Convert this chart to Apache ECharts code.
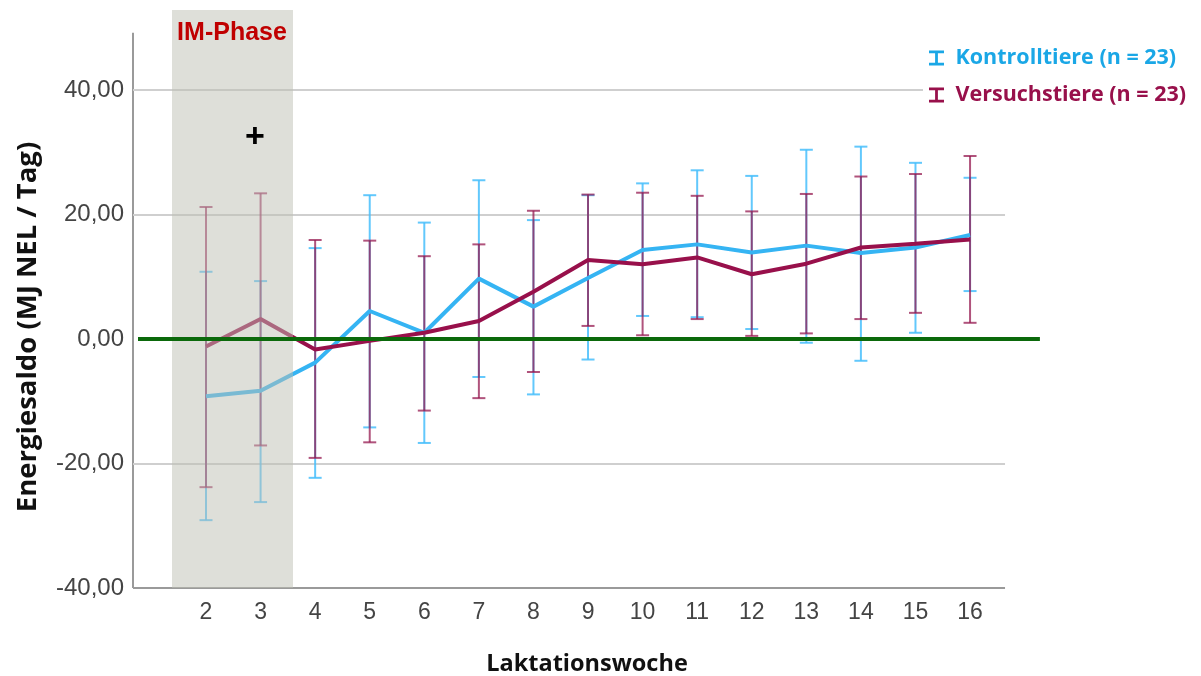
<!DOCTYPE html>
<html><head><meta charset="utf-8">
<script src="https://cdn.jsdelivr.net/npm/echarts@6/dist/echarts.min.js"></script>
<style>html,body{margin:0;padding:0;background:#fff}#c{width:1201px;height:676px}</style>
</head><body><div id="c"></div>
<script>
// ---- data ----
const weeks = [2,3,4,5,6,7,8,9,10,11,12,13,14,15,16];
const kontrollMean  = [-9.2,-8.3,-3.8, 4.5, 1.0, 9.7, 5.2, 9.8,14.3,15.2,13.9,15.0,13.8,14.7,16.7];
const kontrollUpper = [10.8, 9.3,14.6,23.1,18.7,25.5,19.1,23.1,25.0,27.1,26.2,30.4,30.9,28.3,25.9];
const kontrollLower = [-29.1,-26.2,-22.3,-14.2,-16.7,-6.1,-8.9,-3.3,3.7,3.5,1.6,-0.6,-3.5,1.0,7.7];
const versuchMean   = [-1.2, 3.2,-1.7,-0.3, 1.0, 2.9, 7.6,12.7,12.0,13.1,10.4,12.1,14.7,15.3,16.0];
const versuchUpper  = [21.2,23.4,15.9,15.8,13.3,15.2,20.6,23.2,23.5,23.0,20.5,23.3,26.1,26.5,29.4];
const versuchLower  = [-23.8,-17.1,-19.1,-16.6,-11.5,-9.5,-5.3,2.1,0.6,3.2,0.5,0.9,3.2,4.2,2.6];
const yTicks = [-40,-20,0,20,40];
const gridTicks = [-20,20,40];
const imPhaseRange = [1.377, 3.594];
const seriesNames = ['Kontrolltiere (n = 23)', 'Versuchstiere (n = 23)'];

// axis frame (data units)
const xMin = 0.6623, xFrameMax = 16.641, xMax = 17.3;
const yMin = -40, yMax = 52.85, yFrameMax = 49.2;
const zeroLineRange = [0.754, 17.28];

const blue = '#35b4f3', maroon = '#98104b';

function pairs(a){ return weeks.map((w,i)=>[w,a[i]]); }
function bars(lo,hi){ return weeks.map((w,i)=>[w,lo[i],hi[i]]); }

function errRender(color){
  return function(params, api){
    const x = api.value(0), lo = api.value(1), hi = api.value(2);
    const pHi = api.coord([x,hi]), pLo = api.coord([x,lo]);
    const hw = 6.5;
    const st = {stroke: color, lineWidth: 2, fill: null};
    return {type:'group', children:[
      {type:'line', shape:{x1:pHi[0],y1:pHi[1],x2:pLo[0],y2:pLo[1]}, style:st},
      {type:'line', shape:{x1:pHi[0]-hw,y1:pHi[1],x2:pHi[0]+hw,y2:pHi[1]}, style:st},
      {type:'line', shape:{x1:pLo[0]-hw,y1:pLo[1],x2:pLo[0]+hw,y2:pLo[1]}, style:st}
    ]};
  };
}

const frameLines = [
  [{coord:[xMin,yMin], lineStyle:{color:'#9a9a9a', width:2, type:'solid'}},{coord:[xFrameMax,yMin]}],
  [{coord:[xMin,yMin], lineStyle:{color:'#9a9a9a', width:2, type:'solid'}},{coord:[xMin,yFrameMax]}]
].concat(gridTicks.map(t=>[{coord:[xMin,t], lineStyle:{color:'#cfcfcf', width:2, type:'solid'}},{coord:[xFrameMax,t]}]));

const chart = echarts.init(document.getElementById('c'), null, {renderer:'canvas'});
const iBeam = 'path://M0,0H14V2.6H8.3V11.4H14V14H0V11.4H5.7V2.6H0Z';

chart.setOption({
  animation:false,
  backgroundColor:'#fff',
  grid:{left:133, top:10, width:908, bottom:88, containLabel:false, outerBoundsMode:'none'},
  xAxis:{
    type:'value', min:xMin, max:xMax,
    name:'Laktationswoche', nameLocation:'middle', nameGap:64,
    nameTextStyle:{fontFamily:'Open Sans', fontWeight:'bold', fontSize:23.5, color:'#111'},
    axisLine:{show:false},
    axisTick:{show:false},
    splitLine:{show:false},
    axisLabel:{customValues:weeks, formatter:v=>String(v), color:'#444', fontSize:23, margin:13, fontFamily:'Liberation Sans'}
  },
  yAxis:{
    type:'value', min:yMin, max:yMax, interval:20,
    axisLine:{show:false}, axisTick:{show:false},
    splitLine:{show:false},
    axisLabel:{customValues:yTicks, formatter:v=>v.toFixed(2).replace('.',','), color:'#444', fontSize:24, margin:9, fontFamily:'Liberation Sans'}
  },
  legend:{
    orient:'vertical', left:923, top:41, itemGap:15, itemWidth:28, itemHeight:15,
    backgroundColor:'#fff', padding:[6,4,6,6],
    icon:iBeam,
    textStyle:{fontFamily:'Open Sans', fontWeight:'bold', fontSize:21.5},
    data:[
      {name:seriesNames[0], textStyle:{color:'#1aa7e6'}},
      {name:seriesNames[1], textStyle:{color:'#98104b'}}
    ]
  },
  series:[
    {type:'line', name:'frame', z:1, data:[], silent:true,
     markLine:{z:1, silent:true, symbol:'none', label:{show:false}, data:frameLines}},
    {type:'custom', name:'errK', z:2, renderItem:errRender('rgba(70,190,252,0.85)'),
     encode:{x:0, y:[1,2]}, data:bars(kontrollLower,kontrollUpper)},
    {type:'custom', name:'errV', z:2, renderItem:errRender('rgba(150,25,80,0.75)'),
     encode:{x:0, y:[1,2]}, data:bars(versuchLower,versuchUpper)},
    {type:'line', name:seriesNames[0], z:3, data:pairs(kontrollMean), showSymbol:false, symbol:'none',
     lineStyle:{color:blue, width:4}, itemStyle:{color:'#1aa7e6'}},
    {type:'line', name:seriesNames[1], z:4, data:pairs(versuchMean), showSymbol:false, symbol:'none',
     lineStyle:{color:maroon, width:4}, itemStyle:{color:maroon}},
    {type:'line', name:'shade', z:10, data:[], silent:true,
     markArea:{z:10, silent:true, itemStyle:{color:'rgba(190,192,180,0.5)'},
       data:[[{coord:[imPhaseRange[0], yMin]},{coord:[imPhaseRange[1], yMax]}]]}},
    {type:'line', name:'zero', z:12, data:[], silent:true,
     markLine:{z:12, silent:true, symbol:'none', label:{show:false},
       data:[[{coord:[zeroLineRange[0],0], lineStyle:{color:'#0b690b', width:4, type:'solid'}},{coord:[zeroLineRange[1],0]}]]}}
  ],
  graphic:[
    {type:'text', x:232, y:33, z:20, style:{text:'IM-Phase', fill:'#c00000', align:'center', verticalAlign:'middle', font:'bold 25px "Liberation Sans", Arial'}},
    {type:'text', x:255, y:138, z:20, style:{text:'+', fill:'#000', align:'center', verticalAlign:'middle', font:'bold 34px "Liberation Sans", Arial'}},
    {type:'text', x:28, y:327, rotation:Math.PI/2, z:20, style:{text:'Energiesaldo (MJ NEL / Tag)', fill:'#111', align:'center', verticalAlign:'middle', font:'bold 27.5px "Open Sans"'}}
  ]
});
</script>
</body></html>
